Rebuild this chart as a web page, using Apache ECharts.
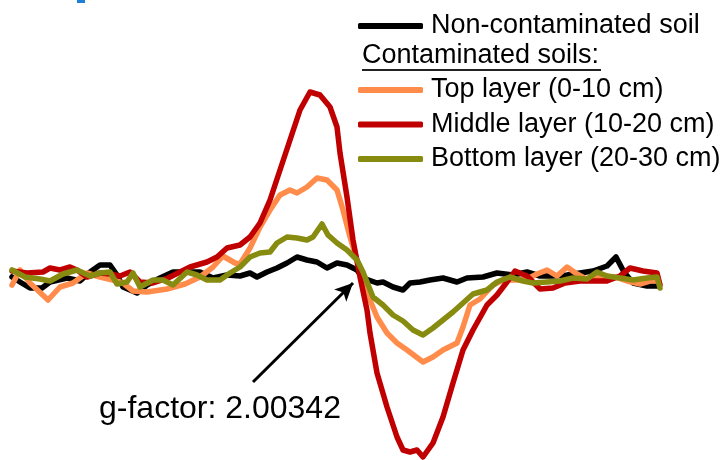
<!DOCTYPE html>
<html>
<head>
<meta charset="utf-8">
<script src="https://cdn.jsdelivr.net/npm/echarts@6/dist/echarts.min.js"></script>
<style>
html,body{margin:0;padding:0;background:#fff;}
#chart{width:727px;height:460px;}
</style>
</head>
<body>
<div id="chart"></div>
<script>
// EPR spectra: [field (arb. units), intensity (arb. units)]
const seriesNames = ['Non-contaminated soil', 'Top layer (0-10 cm)', 'Middle layer (10-20 cm)', 'Bottom layer (20-30 cm)'];
const legendHeader = 'Contaminated soils:';
const annotationText = 'g-factor: 2.00342';
const gFactorPoint = [353, -11];
const annotationFrom = [253, -110];

const nonContaminated = [
  [12,-5],[20,-10],[30,-16],[42,-16],[50,-10],[67,-6],[80,-9],[90,0],[100,7],[110,7],[117,-3],[123,-15],[137,-21],[147,-13],
  [160,-6],[173,0],[187,0],[200,0],[213,-6],[227,-3],[240,-4],[250,-1],[257,-5],[267,0],[277,4],[287,9],[297,15],[307,12],
  [317,10],[327,4],[337,9],[347,7],[357,2],[363,-6],[377,-11],[383,-10],[393,-15],[403,-18],[410,-11],[420,-10],[430,-8],
  [443,-6],[457,-10],[467,-6],[483,-5],[497,-1],[513,-3],[527,0],[540,-4],[553,-4],[567,-3],[580,-1],[593,1],[607,6],
  [616,15],[624,0],[633,-11],[647,-14],[658,-14]
];
const topLayer = [
  [12,-13],[20,2],[30,-11],[48,-28],[60,-15],[73,-11],[87,-1],[100,-5],[113,-8],[123,-11],[133,-19],[147,-20],[167,-17],
  [185,-12],[200,-5],[213,5],[223,16],[235,9],[240,8],[250,24],[260,45],[270,62],[280,77],[290,82],[297,79],[307,85],
  [317,94],[327,92],[337,82],[343,62],[350,35],[357,12],[363,-4],[370,-28],[377,-45],[387,-61],[397,-71],[407,-78],
  [423,-90],[433,-85],[443,-78],[457,-71],[463,-55],[470,-33],[480,-27],[493,-13],[503,-8],[517,-8],[527,-7],[537,-2],
  [547,2],[557,-4],[567,5],[577,-2],[588,-8],[600,-4],[615,-5],[627,-9],[640,-12],[650,-9],[658,-9]
];
const middleLayer = [
  [12,1],[27,-1],[43,0],[50,4],[60,2],[70,5],[77,2],[87,-5],[100,-1],[110,-2],[120,-4],[130,0],[140,-10],[153,-11],
  [168,-6],[180,0],[190,5],[207,10],[217,15],[227,24],[240,27],[250,35],[260,49],[270,72],[280,102],[290,132],[300,162],
  [310,180],[320,177],[330,165],[337,145],[340,119],[347,75],[353,32],[360,-5],[367,-38],[370,-61],[377,-101],[387,-135],
  [397,-165],[403,-178],[410,-180],[417,-178],[423,-185],[433,-171],[443,-145],[453,-111],[463,-78],[473,-58],[487,-33],
  [497,-23],[507,-10],[515,1],[527,-4],[540,-17],[553,-16],[565,-11],[580,-9],[593,-9],[607,-9],[620,-4],[630,4],
  [643,1],[657,-1],[660,-13]
];
const bottomLayer = [
  [12,2],[25,-5],[40,-7],[50,-9],[63,-2],[77,2],[90,-4],[100,-1],[110,0],[117,-12],[127,-10],[133,-1],[140,-15],[153,-8],
  [163,-8],[173,-13],[187,0],[197,-3],[207,-8],[220,-8],[230,-1],[240,5],[250,15],[260,19],[270,20],[277,29],[287,35],
  [297,34],[307,32],[313,35],[322,48],[328,37],[337,29],[347,22],[357,12],[363,0],[373,-25],[383,-33],[393,-43],
  [403,-49],[413,-58],[423,-63],[433,-56],[443,-48],[453,-40],[463,-31],[473,-22],[487,-18],[497,-10],[510,-5],
  [523,-9],[533,-11],[547,-10],[560,-9],[573,-6],[587,-7],[597,0],[607,-4],[620,-6],[633,-8],[647,-6],[657,-5],[660,-16]
];

const colors = ['#000000', '#FF8C4B', '#C00000', '#878C10'];
const datasets = [nonContaminated, topLayer, middleLayer, bottomLayer];
const FONT = '"Liberation Sans", Arial, sans-serif';

const chart = echarts.init(document.getElementById('chart'));
const series = datasets.map((d, i) => ({
  name: seriesNames[i],
  type: 'line',
  data: d,
  showSymbol: false,
  symbol: 'none',
  color: colors[i],
  lineStyle: { width: 5.5, color: colors[i], join: 'round', cap: 'round' },
  z: 2 + i,
  animation: false
}));
series[0].markLine = {
  silent: true,
  symbol: ['none', 'arrow'],
  symbolSize: [13, 18],
  label: { show: false },
  lineStyle: { color: '#000', width: 3, type: 'solid' },
  data: [[{ coord: annotationFrom }, { coord: gFactorPoint }]],
  animation: false
};

const legendCommon = {
  left: 358, orient: 'vertical', padding: 0, itemGap: 4.5,
  icon: 'roundRect', itemWidth: 65, itemHeight: 6,
  textStyle: { fontSize: 27, fontFamily: FONT, color: '#000', lineHeight: 30, padding: [0, 0, 0, 3] }
};

chart.setOption({
  animation: false,
  backgroundColor: '#fff',
  grid: { left: 0, right: 0, top: 0, bottom: 0 },
  xAxis: { type: 'value', min: 0, max: 727, show: false },
  yAxis: { type: 'value', min: -188, max: 272, show: false },
  legend: [
    Object.assign({}, legendCommon, { data: [seriesNames[0]], top: 11 }),
    Object.assign({}, legendCommon, { data: seriesNames.slice(1), top: 75 })
  ],
  graphic: [
    { type: 'rect', left: 77, top: 0, shape: { width: 8, height: 3 }, style: { fill: '#1E7DD6' } },
    { type: 'text', x: 362, y: 56, style: { text: legendHeader, font: '27px ' + FONT, fill: '#000', verticalAlign: 'middle' } },
    { type: 'line', shape: { x1: 362, y1: 70, x2: 601, y2: 70 }, style: { stroke: '#222', lineWidth: 2 } },
    { type: 'text', x: 99, y: 409, style: { text: annotationText, font: '32px ' + FONT, fill: '#000', verticalAlign: 'middle' } }
  ],
  series: series
});
</script>
</body>
</html>
